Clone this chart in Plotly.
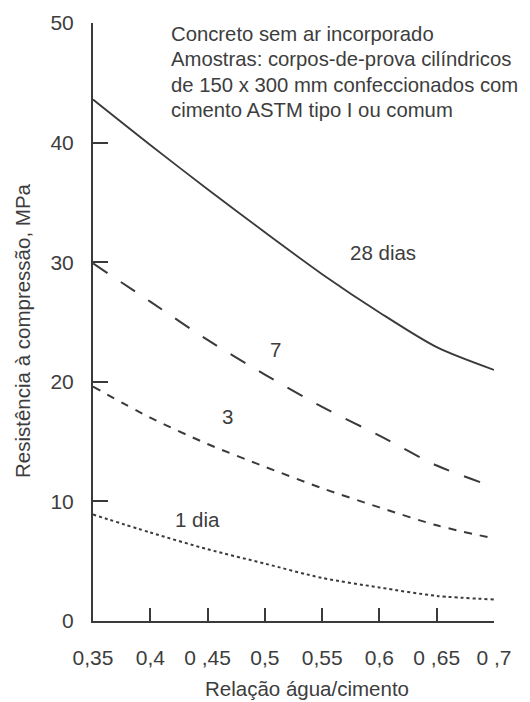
import plotly.graph_objects as go

# Data
wc_ratio = [0.35, 0.40, 0.45, 0.50, 0.55, 0.60, 0.65, 0.70]
resist_28d = [43.6, 39.8, 36.1, 32.5, 29.0, 25.8, 22.9, 21.0]
resist_7d = [29.9, 26.7, 23.5, 20.6, 17.9, 15.5, 13.0, 11.2]
resist_3d = [19.6, 17.0, 14.8, 12.9, 11.1, 9.5, 8.0, 6.9]
resist_1d = [8.9, 7.4, 6.0, 4.8, 3.6, 2.8, 2.1, 1.8]

x_tickvals = [0.35, 0.40, 0.45, 0.50, 0.55, 0.60, 0.65, 0.70]
x_ticktext = ["0,35", "0,4", "0 ,45", "0,5", "0,55", "0,6", "0 ,65", "0 ,7"]
y_tickvals = [0, 10, 20, 30, 40, 50]

note_lines = [
    "Concreto sem ar incorporado",
    "Amostras: corpos-de-prova cilíndricos",
    "de 150 x 300 mm confeccionados com",
    "cimento ASTM tipo I ou comum",
]

FONT = "Liberation Sans, Arial, sans-serif"
TXT = "#3d3d3d"
LINE = "#3a3a3a"

# plot-area geometry (pixels)
L, R, T, B = 93, 36, 23, 81
W, H = 530, 702
PW, PH = W - L - R, H - T - B


def px_to_paper(px, py):
    return (px - L) / PW, (H - B - py) / PH


fig = go.Figure()
series = [
    (resist_28d, "solid", 1.8),
    (resist_7d, "17px,16px", 2.0),
    (resist_3d, "8px,8px", 2.0),
    (resist_1d, "3px,3px", 2.0),
]
for ys, dash, w in series:
    fig.add_trace(go.Scatter(
        x=wc_ratio, y=ys, mode="lines",
        line=dict(color=LINE, width=w, dash=dash, shape="spline", smoothing=0.8),
        showlegend=False, hoverinfo="skip",
    ))

annos = []
# curve labels
for txt, xx, yy in [("28 dias", 0.603, 30.8), ("7", 0.509, 22.7),
                    ("3", 0.467, 17.1), ("1 dia", 0.441, 8.45)]:
    annos.append(dict(x=xx, y=yy, xref="x", yref="y", text=txt, showarrow=False,
                      font=dict(family=FONT, size=20.5, color=TXT),
                      xanchor="center", yanchor="middle"))
# note block
for i, t in enumerate(note_lines):
    annos.append(dict(x=0.4165, y=49.05 - i * 2.1, xref="x", yref="y", text=t,
                      showarrow=False, font=dict(family=FONT, size=20.3, color=TXT),
                      xanchor="left", yanchor="middle"))
# axis titles
xt, yt = px_to_paper(307, 688)
annos.append(dict(x=xt, y=yt, xref="paper", yref="paper",
                  text="Relação água/cimento", showarrow=False,
                  font=dict(family=FONT, size=20.5, color=TXT),
                  xanchor="center", yanchor="middle"))
xt, yt = px_to_paper(22, 331)
annos.append(dict(x=xt, y=yt, xref="paper", yref="paper",
                  text="Resistência à compressão, MPa", showarrow=False, textangle=-90,
                  font=dict(family=FONT, size=20.5, color=TXT),
                  xanchor="center", yanchor="middle"))

fig.update_layout(
    width=W, height=H,
    margin=dict(l=L, r=R, t=T, b=B, pad=0),
    paper_bgcolor="white", plot_bgcolor="white",
    font=dict(family=FONT, size=21, color=TXT),
    annotations=annos,
    xaxis=dict(range=[0.35, 0.70], tickvals=x_tickvals, ticktext=x_ticktext,
               showgrid=False, zeroline=False, showline=True, linecolor=LINE,
               linewidth=2, ticks="inside", ticklen=13, tickwidth=2, tickcolor=LINE,
               ticklabelstandoff=17, tickfont=dict(size=21, color=TXT)),
    yaxis=dict(range=[0, 50], tickvals=y_tickvals,
               showgrid=False, zeroline=False, showline=True, linecolor=LINE,
               linewidth=2, ticks="inside", ticklen=15, tickwidth=2, tickcolor=LINE,
               ticklabelstandoff=13, tickfont=dict(size=21, color=TXT)),
)

fig.write_html("out.html")
